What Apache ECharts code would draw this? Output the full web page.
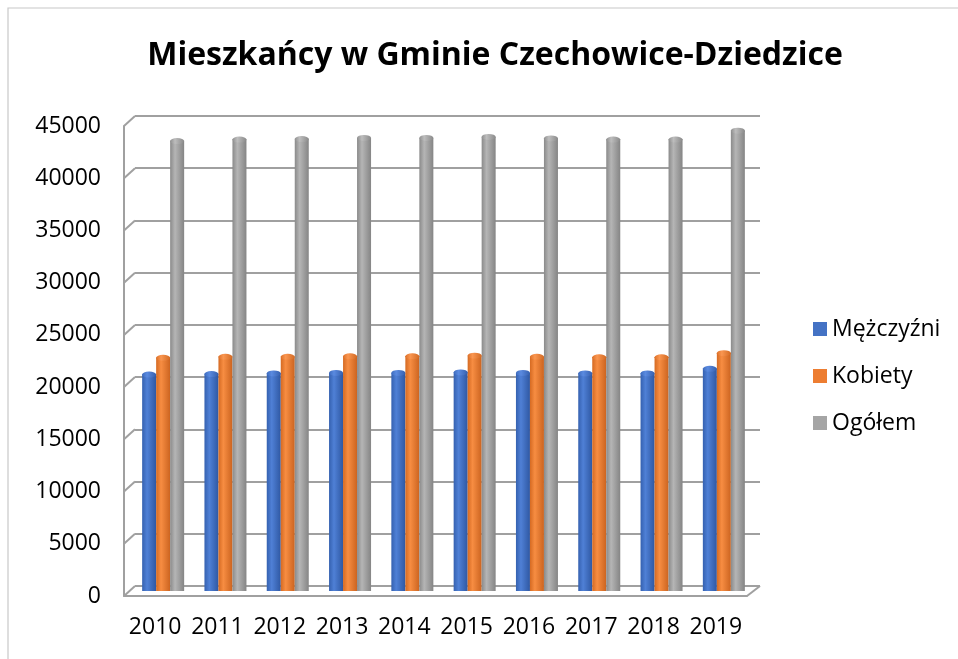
<!DOCTYPE html>
<html>
<head>
<meta charset="utf-8">
<script src="https://cdn.jsdelivr.net/npm/echarts@6/dist/echarts.min.js"></script>
<style>
html,body{margin:0;padding:0;background:#fff;}
#c{width:958px;height:659px;}
</style>
</head>
<body>
<div id="c"></div>
<script>
const years = ['2010','2011','2012','2013','2014','2015','2016','2017','2018','2019'];
const men   = [20750, 20800, 20850, 20900, 20900, 20950, 20900, 20850, 20850, 21300];
const women = [22350, 22450, 22450, 22500, 22500, 22550, 22450, 22400, 22400, 22800];
const total = [43100, 43250, 43300, 43400, 43400, 43500, 43350, 43250, 43250, 44100];
const seriesNames = ['Mężczyźni', 'Kobiety', 'Ogółem'];
const yTickValues = [0, 5000, 10000, 15000, 20000, 25000, 30000, 35000, 40000, 45000];

const FONT = '"Open Sans", "Noto Sans", sans-serif';
const GRID_LINE = '#a0a0a0';
const baseColors = ['#4472c4', '#ed7d31', '#a5a5a5'];
function cyl(edgeL, mid, edgeR) {
  return new echarts.graphic.LinearGradient(0, 0, 1, 0, [
    {offset: 0, color: edgeL},
    {offset: 0.35, color: mid},
    {offset: 1, color: edgeR}
  ]);
}
const bodyFills = [
  cyl('#3561b0', '#4f80d6', '#2f58a3'),
  cyl('#d56a22', '#f78d42', '#cc6420'),
  cyl('#8a8a8a', '#b5b5b5', '#858585')
];
const capFills = [
  cyl('#3d6bbd', '#5a8ae0', '#3660ad'),
  cyl('#dc7028', '#fa9650', '#d26a24'),
  cyl('#8f8f8f', '#bdbdbd', '#8a8a8a')
];
const capStroke = ['#2e549a', '#b85a1c', '#7a7a7a'];
const values = [men, women, total];

const chart = echarts.init(document.getElementById('c'));

const barSeries = values.map((d, i) => ({
  name: seriesNames[i],
  type: 'bar',
  xAxisIndex: 2, yAxisIndex: 2,
  data: d,
  barWidth: 14,
  barGap: '0%',
  itemStyle: {color: bodyFills[i]},
  z: 3
}));
const capSeries = values.map((d, i) => ({
  name: 'cap' + i,
  type: 'pictorialBar',
  xAxisIndex: 2, yAxisIndex: 2,
  data: d,
  barWidth: 14,
  barGap: '0%',
  symbol: 'circle',
  symbolSize: [14, 6],
  symbolPosition: 'end',
  symbolOffset: [0, '-50%'],
  itemStyle: {color: capFills[i], borderColor: capStroke[i], borderWidth: 0.8},
  z: 4,
  silent: true
}));

const wallSeries = {
  name: 'wall',
  type: 'custom',
  xAxisIndex: 1, yAxisIndex: 1,
  data: yTickValues.map(v => [0, v]),
  silent: true,
  z: 2,
  renderItem: function (params, api) {
    const cs = params.coordSys;
    const v = api.value(1);
    const p = api.coord([0, v]);
    const style = {stroke: GRID_LINE, lineWidth: 2};
    const children = [{
      type: 'line',
      shape: {x1: cs.x, y1: p[1], x2: cs.x + 11, y2: p[1] - 10},
      style: style
    }];
    if (v === 0) {
      children.push({
        type: 'line',
        shape: {x1: cs.x + cs.width, y1: p[1], x2: cs.x + cs.width + 13, y2: p[1] - 10},
        style: style
      });
    }
    return {type: 'group', children: children};
  }
};

const option = {
  backgroundColor: '#fff',
  animation: false,
  title: {
    text: 'Mieszkańcy w Gminie Czechowice-Dziedzice',
    left: 490,
    textAlign: 'center',
    top: 35,
    textStyle: {fontFamily: FONT, fontSize: 32, fontWeight: 'bold', color: '#000'}
  },
  legend: {
    orient: 'vertical',
    left: 808,
    top: 311,
    itemWidth: 14,
    itemHeight: 14,
    itemGap: 21,
    icon: 'rect',
    data: seriesNames.map((n, i) => ({name: n, itemStyle: {color: baseColors[i]}})),
    textStyle: {fontFamily: FONT, fontSize: 23, color: '#000', lineHeight: 26}
  },
  graphic: [{
    type: 'rect',
    shape: {x: 8, y: 8, width: 970, height: 680},
    style: {fill: 'none', stroke: '#c8c8c8', lineWidth: 1.2},
    silent: true
  }],
  grid: [
    {left: 135, right: 198, top: 116, bottom: 73},
    {left: 124, right: 211, top: 126, bottom: 63},
    {left: 132, right: 203, top: 121, bottom: 68}
  ],
  xAxis: [
    {gridIndex: 0, type: 'category', data: years, show: false},
    {
      gridIndex: 1, type: 'category', data: years,
      axisLine: {show: true, lineStyle: {color: GRID_LINE, width: 2}},
      axisTick: {show: false},
      axisLabel: {fontFamily: FONT, fontSize: 23, color: '#000', margin: 20, interval: 0}
    },
    {gridIndex: 2, type: 'category', data: years, show: false}
  ],
  yAxis: [
    {
      gridIndex: 0, type: 'value', min: 0, max: 45000, interval: 5000,
      axisLabel: {show: false}, axisLine: {show: false}, axisTick: {show: false},
      splitLine: {show: true, lineStyle: {color: GRID_LINE, width: 2}}
    },
    {
      gridIndex: 1, type: 'value', min: 0, max: 45000, interval: 5000,
      axisLine: {show: true, lineStyle: {color: GRID_LINE, width: 2}},
      axisTick: {show: false},
      splitLine: {show: false},
      axisLabel: {fontFamily: FONT, fontSize: 23, color: '#000', margin: 23, formatter: v => String(v)}
    },
    {gridIndex: 2, type: 'value', min: 0, max: 45000, interval: 5000, show: false, splitLine: {show: false}}
  ],
  series: [wallSeries].concat(barSeries, capSeries)
};
chart.setOption(option);
</script>
</body>
</html>
